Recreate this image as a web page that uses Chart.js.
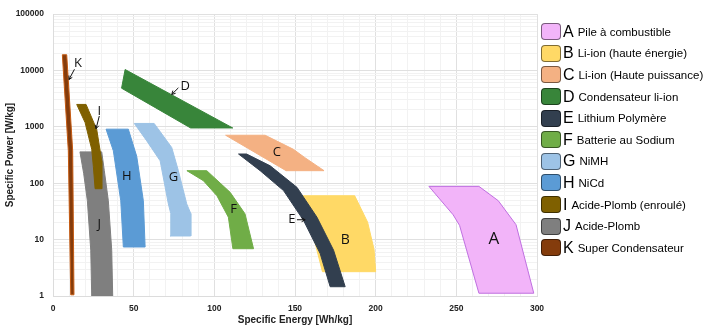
<!DOCTYPE html>
<html lang="fr">
<head>
<meta charset="utf-8" />
<title>Ragone</title>
<script src="https://cdn.jsdelivr.net/npm/chart.js@4.4.0/dist/chart.umd.min.js"></script>
<style>
  html, body { margin: 0; padding: 0; background: #fff; }
  #wrap { position: relative; width: 709px; height: 331px; }
  #legend { position: absolute; left: 541px; top: 0; font-family: 'Liberation Sans', Arial, sans-serif; color: #000; }
  .item { position: absolute; left: 0; height: 18px; display: flex; align-items: center; white-space: nowrap; }
  .sw { width: 20px; height: 17px; border-radius: 4px; border: 1px solid rgba(0,0,0,0.5); box-sizing: border-box; }
  .let { font-size: 16px; margin-left: 2px; }
  .txt { font-size: 11.5px; margin-left: 4px; }
</style>
</head>
<body>
<div id="wrap">
  <canvas id="c" width="709" height="331"></canvas>
  <div id="legend"></div>
</div>
<script>
// polygons: [energy Wh/kg, power W/kg]
const shapeA = [[233,88],[264,88],[276,49],[287,18.4],[298,1.12],[264,1.12],[252,17.9],[248,27.6]];
const shapeB = [[155,60],[187,60],[195,20.4],[199,6.7],[200,2.7],[167,2.7]];
const shapeC = [[107,710],[131.5,710],[149,400],[156,286],[168,167],[144.5,167]];
const shapeD = [[44.7,10400],[111.4,956],[85.3,956],[42.5,4850]];
const shapeE = [[115,330],[120,330],[134.6,204],[151.2,84.7],[163.6,25],[173.9,6.5],[181.1,1.46],[171.8,1.46],[165.6,5.66],[155.3,21.9],[142.9,74],[128.4,167]];
const shapeF = [[83,167],[95.3,167],[109.8,69],[119,28.7],[124.3,6.9],[111.5,6.9],[108.7,25],[101.6,60],[93.2,111]];
const shapeG = [[50.4,1150],[62.7,1150],[73.6,430],[77.7,167],[82.9,43],[85.4,29],[85.4,11.6],[72.6,11.6],[73,29],[71.5,43],[66.4,250],[58.1,564]];
const shapeH = [[32.9,910],[46.7,910],[51.9,300],[56,49],[57.1,7.4],[43.6,7.4],[42,49],[37.4,376]];
const shapeI = [[14.7,2500],[20.5,2500],[27.1,900],[30.2,250],[30.2,80],[26.1,80],[25,200],[24,400],[19.9,1190]];
const shapeJ = [[16.7,360],[30.2,360],[31.8,167],[34.3,49],[36.4,6.5],[37,1],[24,1],[23.4,6.5],[21.3,49],[19,150]];
const shapeK = [[5.8,19000],[8.5,19000],[12.2,376],[13,1.05],[11,1.05],[9.5,376]];

const letters = ['A','B','C','D','E','F','G','H','I','J','K'];
const names = ['Pile à combustible','Li-ion (haute énergie)','Li-ion (Haute puissance)','Condensateur li-ion',
  'Lithium Polymère','Batterie au Sodium','NiMH','NiCd','Acide-Plomb (enroulé)','Acide-Plomb','Super Condensateur'];
const fills = ['#f2b4f9','#ffd966','#f4b183','#38853a','#323f4f','#70ad47','#9dc3e6','#5b9bd5','#7f6000','#7f7f7f','#843c0c'];
const edges = ['#bf6fe0','#ffd966','#f4b183','#38853a','#323f4f','#70ad47','#9dc3e6','#5b9bd5','#7f6000','#7f7f7f','#c55a11'];
const shapes = [shapeA, shapeB, shapeC, shapeD, shapeE, shapeF, shapeG, shapeH, shapeI, shapeJ, shapeK];

// letters placed on the chart and the little arrows
const tagEnergy = [273.2, 181.1, 138.8, 81.9, 148.1, 111.9, 74.6, 45.7, 28.7, 28.7, 15.5];
const tagPower = [10.1, 9.7, 351, 5264, 22.5, 35.2, 127, 131, 1906, 18.6, 13400];
const arrowFrom = [[13.3,10500],[28.7,1557],[77.7,4914],[151.2,22.5]];
const arrowTo = [[9.9,6910],[26.7,929],[73.6,3758],[156.3,22.5]];

const energyTickLabels = ['0','50','100','150','200','250','300'];
const powerTickLabels = ['1','10','100','1000','10000','100000'];

const energyGrid = [];
for (let v = 0; v <= 300; v += 10) energyGrid.push(v);
const powerGrid = [];
for (let d = 1; d < 100000; d *= 10) for (let m = 1; m < 10; m++) powerGrid.push(m * d);
powerGrid.push(100000);

const datasets = shapes.map((s, i) => ({
  label: letters[i],
  data: s.concat([s[0]]).map(p => ({ x: p[0], y: p[1] })),
  showLine: true,
  fill: 'shape',
  backgroundColor: fills[i],
  borderColor: edges[i],
  borderWidth: 1,
  pointRadius: 0,
  tension: 0,
  order: (letters[i] === 'E' || letters[i] === 'I') ? 0 : 1
}));

const annotate = {
  id: 'annotate',
  afterDatasetsDraw(chart) {
    const { ctx, scales: { x, y } } = chart;
    ctx.save();
    ctx.fillStyle = '#111';
    ctx.textAlign = 'center';
    ctx.textBaseline = 'middle';
    letters.forEach((t, i) => {
      ctx.font = (t === 'A' ? '17px' : t === 'B' ? '14px' : '13px') + " 'Open Sans', sans-serif";
      ctx.fillText(t, x.getPixelForValue(tagEnergy[i]), y.getPixelForValue(tagPower[i]));
    });
    ctx.strokeStyle = '#111';
    ctx.lineWidth = 1;
    arrowFrom.forEach((a, i) => {
      const x0 = x.getPixelForValue(a[0]), y0 = y.getPixelForValue(a[1]);
      const x1 = x.getPixelForValue(arrowTo[i][0]), y1 = y.getPixelForValue(arrowTo[i][1]);
      const ang = Math.atan2(y1 - y0, x1 - x0);
      ctx.beginPath();
      ctx.moveTo(x0, y0); ctx.lineTo(x1, y1);
      ctx.moveTo(x1 - 4 * Math.cos(ang - 0.5), y1 - 4 * Math.sin(ang - 0.5));
      ctx.lineTo(x1, y1);
      ctx.lineTo(x1 - 4 * Math.cos(ang + 0.5), y1 - 4 * Math.sin(ang + 0.5));
      ctx.stroke();
    });
    ctx.restore();
  }
};

Chart.defaults.font.family = "'Liberation Sans', Arial, sans-serif";

new Chart(document.getElementById('c'), {
  type: 'scatter',
  data: { datasets },
  plugins: [annotate],
  options: {
    responsive: false,
    animation: false,
    layout: { padding: { top: 13, right: 172, left: 0, bottom: 0 } },
    plugins: { legend: { display: false }, tooltip: { enabled: false } },
    scales: {
      x: {
        type: 'linear', min: 0, max: 300,
        afterFit: s => { s.height = 35; },
        afterBuildTicks: s => { s.ticks = energyGrid.map(v => ({ value: v })); },
        ticks: {
          autoSkip: false, maxRotation: 0, padding: 8, color: '#222',
          font: { size: 8.5, weight: 'bold' },
          callback: v => energyTickLabels.includes(String(v)) ? String(v) : ''
        },
        grid: { drawTicks: false, color: c => (c.tick && c.tick.value % 50 === 0) ? '#e0e0e0' : '#f2f2f2' },
        border: { color: '#dcdcdc' },
        title: { display: true, text: 'Specific Energy [Wh/kg]', color: '#222', font: { size: 10, weight: 'bold' }, padding: { top: 0, bottom: 5 } }
      },
      y: {
        type: 'logarithmic', min: 1, max: 100000,
        afterFit: s => { s.width = 53; },
        afterBuildTicks: s => { s.ticks = powerGrid.map(v => ({ value: v })); },
        ticks: {
          autoSkip: false, padding: 9, color: '#222',
          font: { size: 8.5, weight: 'bold' },
          callback: v => powerTickLabels.includes(String(v)) ? String(v) : ''
        },
        grid: { drawTicks: false, color: c => (c.tick && powerTickLabels.includes(String(c.tick.value))) ? '#e0e0e0' : '#f2f2f2' },
        border: { color: '#dcdcdc' },
        title: { display: true, text: 'Specific Power [W/kg]', color: '#222', font: { size: 10, weight: 'bold' }, padding: { top: 4, bottom: 0 } }
      }
    }
  }
});

const legend = document.getElementById('legend');
letters.forEach((t, i) => {
  const row = document.createElement('div');
  row.className = 'item';
  row.style.top = (31.7 + 21.6 * i - 9) + 'px';
  row.innerHTML = '<span class="sw" style="background:' + fills[i] + '"></span>' +
    '<span class="let">' + t + '</span><span class="txt">' + names[i] + '</span>';
  legend.appendChild(row);
});
</script>
</body>
</html>
